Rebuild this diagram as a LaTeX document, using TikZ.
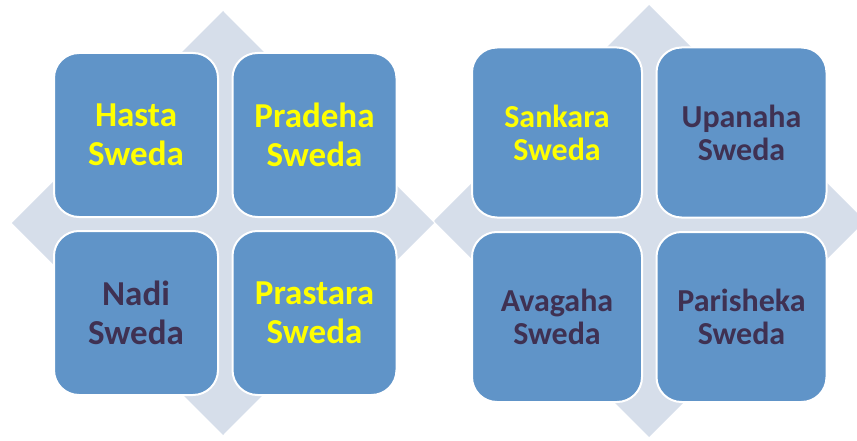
\documentclass[tikz,border=0pt]{standalone}
\usepackage{fontspec}
\setmainfont{Carlito}
\definecolor{boxblue}{HTML}{6094C8}
\definecolor{diamondgray}{HTML}{D6DEEA}
\definecolor{darktext}{HTML}{3F3152}
\definecolor{yellowtext}{HTML}{FFFF00}
\tikzset{
  cell/.style={rectangle, rounded corners=25pt, fill=boxblue, draw=white, line width=2pt,
    inner sep=0pt, align=center, font=\bfseries},
  bigcell/.style={cell, minimum width=164pt, minimum height=164pt,
    font=\fontsize{35pt}{39pt}\selectfont\bfseries},
  smallcell/.style={cell, minimum width=170pt, minimum height=170pt,
    font=\fontsize{32pt}{33pt}\selectfont\bfseries},
  bgdiamond/.style={fill=diamondgray}
}
\begin{document}
\begin{tikzpicture}[x=1pt,y=-1pt]
\useasboundingbox (0,0) rectangle (857,441);
\clip (0,0) rectangle (857,441);
% background diamonds
\fill[bgdiamond] (223,11) -- (434,223) -- (223,435) -- (12,223) -- cycle;
\fill[bgdiamond] (649,5) -- (865,221) -- (649,437) -- (434,221) -- cycle;
% left group
\node[bigcell, text=yellowtext] (hasta)    at (136,135) {Hasta\\Sweda};
\node[bigcell, text=yellowtext] (pradeha)  at (314.5,135) {Pradeha\\Sweda};
\node[bigcell, text=darktext]   (nadi)     at (136,313) {Nadi\\Sweda};
\node[bigcell, text=yellowtext] (prastara) at (314.5,313) {Prastara\\Sweda};
% right group
\node[smallcell, text=yellowtext] (sankara)   at (557,132.5) {Sankara\\Sweda};
\node[smallcell, text=darktext]   (upanaha)   at (741.5,132.5) {Upanaha\\Sweda};
\node[smallcell, text=darktext]   (avagaha)   at (557,317) {Avagaha\\Sweda};
\node[smallcell, text=darktext]   (parisheka) at (741.5,317) {Parisheka\\Sweda};
\end{tikzpicture}
\end{document}
